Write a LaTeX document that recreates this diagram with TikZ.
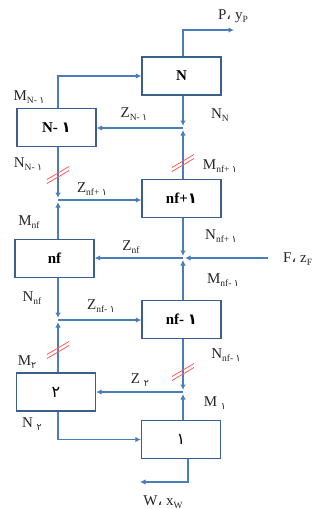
\documentclass[tikz,border=0pt]{standalone}
\usepackage{fontspec}
\setmainfont{Liberation Serif}
\newfontfamily\ar[Script=Arabic]{DejaVu Sans}
\usetikzlibrary{arrows.meta}
\definecolor{ln}{HTML}{4A7EBB}
\definecolor{bd}{HTML}{3A5F8C}
\definecolor{rd}{HTML}{FF5A5A}
\newcommand{\one}{{\ar ١}}
\newcommand{\two}{{\ar ٢}}
\newcommand{\acomma}{{\ar ،}}
\newcommand{\lsub}[1]{\raisebox{-0.4ex}{\fontsize{9.5}{10}\selectfont #1}}
\begin{document}
\begin{tikzpicture}[x=1pt,y=-1pt,
  font=\fontsize{15}{17}\selectfont,
  box/.style={draw=bd, line width=1.3pt, fill=white, minimum width=79pt, minimum height=38pt, inner sep=0pt, font=\fontsize{15}{17}\selectfont\bfseries},
  flow/.style={draw=ln, line width=1.3pt, -{Latex[length=5.5pt,width=5.5pt]}},
  lab/.style={inner sep=0pt, text=black!85},
  dslash/.pic={\draw[rd, line width=0.8pt] (-11,4.5)--(11,-8.5) (-11,8.5)--(11,-4.5);}]
\useasboundingbox (0,0) rectangle (320,509);

% boxes
\node[box] (bN)  at (181.5,76)    {N};
\node[box] (bN1) at (56.5,127.5)  {N- \one};
\node[box] (bP1) at (181.5,198.5) {nf+\one};
\node[box] (bnf) at (54.5,258.5)  {nf};
\node[box] (bM1) at (181.5,319.5) {nf- \one};
\node[box, font=\fontsize{16}{18}\selectfont] (b2) at (56,392) {\two};
\node[box, font=\fontsize{16}{18}\selectfont] (b1) at (181,439.5) {\one};

% helper coordinates
\coordinate (rx) at (183,0);
\coordinate (lx) at (58,0);
\coordinate (j1) at (183,128);
\coordinate (j2) at (58,200);
\coordinate (j3) at (183,258);
\coordinate (j4) at (58,320);
\coordinate (j5) at (183,392);
\coordinate (ptop) at (183,30);
\coordinate (P) at (234,30);
\coordinate (F) at (268,258);
\coordinate (wb) at (188,482);
\coordinate (W) at (140,482);

% top product
\draw[flow] (bN.north -| rx) -- (ptop) -- (P);
% N-1 vapour to N
\draw[flow] (bN1.north -| lx) |- (bN.west);
% junction 1
\draw[flow, shorten >=2pt] (bN.south -| rx) -- (j1);
\draw[flow, shorten >=2pt] (bP1.north -| rx) -- (j1);
\draw[flow] (j1) -- (bN1.east |- j1);
% junction 2
\draw[flow, shorten >=2pt] (bN1.south -| lx) -- (j2);
\draw[flow, shorten >=2pt] (bnf.north -| lx) -- (j2);
\draw[flow] (j2) -- (bP1.west |- j2);
% junction 3 (feed)
\draw[flow, shorten >=2pt] (bP1.south -| rx) -- (j3);
\draw[flow, shorten >=2pt] (bM1.north -| rx) -- (j3);
\draw[flow, shorten >=2pt] (F) -- (j3);
\draw[flow] (j3) -- (bnf.east |- j3);
% junction 4
\draw[flow, shorten >=2pt] (bnf.south -| lx) -- (j4);
\draw[flow, shorten >=2pt] (b2.north -| lx) -- (j4);
\draw[flow] (j4) -- (bM1.west |- j4);
% junction 5
\draw[flow, shorten >=2pt] (bM1.south -| rx) -- (j5);
\draw[flow, shorten >=2pt] (b1.north -| rx) -- (j5);
\draw[flow] (j5) -- (b2.east |- j5);
% bottom
\draw[flow] (b2.south -| lx) |- (b1.west);
\draw[flow] (b1.south -| wb) -- (wb) -- (W);

% red double slashes
\pic at (183,163) {dslash};
\pic at (58,175) {dslash};
\pic at (58,350) {dslash};
\pic at (183,372) {dslash};

% labels
\node[lab] (lP)   at (233,16)  {P\acomma{} y\lsub{P}};
\node[lab] (lMN1) at (29,97)   {M\lsub{N- \one}};
\node[lab] (lZN1) at (134,114) {Z\lsub{N- \one}};
\node[lab] (lNN)  at (220,115) {N\lsub{N}};
\node[lab] (lNN1) at (28,164)  {N\lsub{N- \one}};
\node[lab] (lMp1) at (220,166) {M\lsub{nf+ \one}};
\node[lab] (lZp1) at (92,189)  {Z\lsub{nf+ \one}};
\node[lab] (lMnf) at (29,222)  {M\lsub{nf}};
\node[lab] (lNp1) at (221,236) {N\lsub{nf+ \one}};
\node[lab] (lZnf) at (131,247) {Z\lsub{nf}};
\node[lab, anchor=west] (lF) at (283,259) {F\acomma{} z\lsub{F}};
\node[lab] (lMm1) at (223,280) {M\lsub{nf- \one}};
\node[lab] (lNnf) at (32,298)  {N\lsub{nf}};
\node[lab] (lZm1) at (101,306) {Z\lsub{nf- \one}};
\node[lab] (lM2)  at (27,362)  {M\lsub{\two}};
\node[lab] (lNm1) at (226,355) {N\lsub{nf- \one}};
\node[lab] (lZ2)  at (140,380) {Z \lsub{\two}};
\node[lab] (lM1)  at (215,403) {M \lsub{\one}};
\node[lab] (lN2)  at (32,424)  {N \lsub{\two}};
\node[lab] (lW)   at (163,502) {W\acomma{} x\lsub{W}};
\end{tikzpicture}
\end{document}
